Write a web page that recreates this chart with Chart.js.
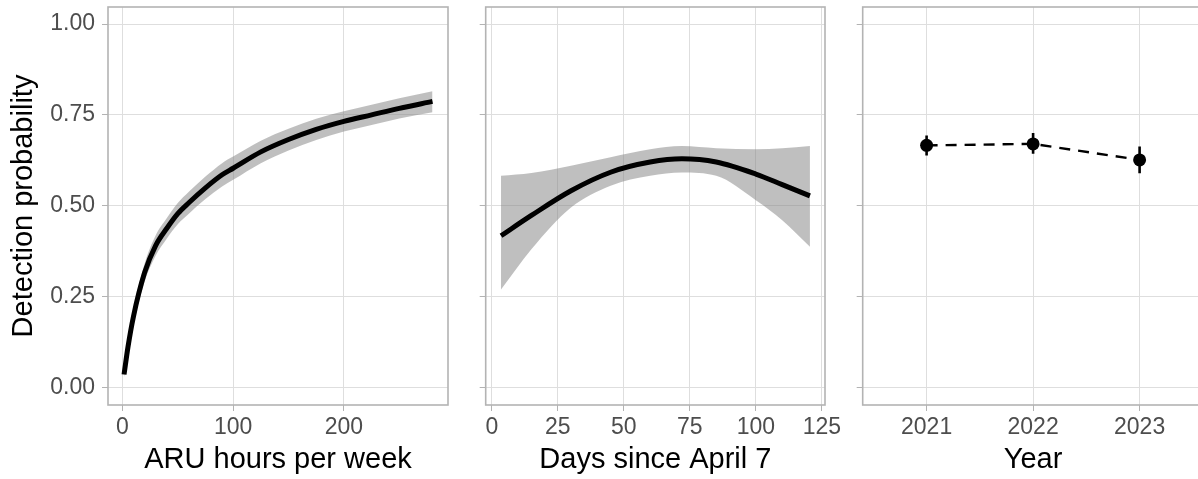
<!DOCTYPE html>
<html>
<head>
<meta charset="utf-8">
<script src="https://cdn.jsdelivr.net/npm/chart.js@4"></script>
<style>
body { margin: 0; background: #fff; overflow: hidden; }
#wrap { position: relative; width: 1198px; height: 479px; overflow: hidden; }
canvas { position: absolute; top: 0; }
</style>
</head>
<body>
<div id="wrap">
  <canvas id="hours" width="470" height="479" style="left:0px"></canvas>
  <canvas id="days" width="395" height="479" style="left:455px"></canvas>
  <canvas id="year" width="405" height="479" style="left:835px"></canvas>
</div>
<script>
// y axis shared by all three panels
const yTicks = [0, 0.25, 0.5, 0.75, 1];

// panel 1: ARU hours per week
const hoursX   = [1.5, 5, 10, 20, 30, 40, 50, 60, 75, 90, 100, 125, 150, 175, 200, 225, 250, 280];
const hoursFit = [0.035, 0.11, 0.195, 0.315, 0.39, 0.437, 0.478, 0.508, 0.549, 0.585, 0.603, 0.648, 0.682, 0.71, 0.732, 0.75, 0.768, 0.787];
const hoursLo  = [0.027, 0.095, 0.175, 0.29, 0.362, 0.409, 0.449, 0.478, 0.518, 0.553, 0.571, 0.617, 0.652, 0.681, 0.704, 0.722, 0.74, 0.757];
const hoursHi  = [0.043, 0.125, 0.215, 0.34, 0.418, 0.465, 0.507, 0.538, 0.58, 0.617, 0.635, 0.679, 0.712, 0.739, 0.76, 0.778, 0.796, 0.815];
const hoursTicks = [0, 100, 200];

// panel 2: days since April 7
const daysX   = [3.5, 15, 30, 45, 60, 72, 85, 100, 110, 120.5];
const daysFit = [0.417, 0.473, 0.541, 0.592, 0.62, 0.629, 0.62, 0.587, 0.558, 0.527];
const daysLo  = [0.269, 0.38, 0.495, 0.555, 0.582, 0.591, 0.582, 0.515, 0.46, 0.387];
const daysHi  = [0.582, 0.59, 0.61, 0.633, 0.655, 0.664, 0.658, 0.655, 0.658, 0.664];
const daysTicks = [0, 25, 50, 75, 100, 125];

// panel 3: year
const years   = [2021, 2022, 2023];
const yearEst = [0.666, 0.670, 0.626];
const yearLo  = [0.638, 0.643, 0.589];
const yearHi  = [0.693, 0.700, 0.663];

const FONT = "'Liberation Sans', Arial, sans-serif";
const GRID = '#dedede';
const EDGE = '#b3b3b3';

function pts(xs, ys) { return xs.map((x, i) => ({x: x, y: ys[i]})); }

// gray frame round the panel, like theme_light
const panelBorder = {
  id: 'panelBorder',
  afterDraw(chart) {
    const c = chart.ctx, a = chart.chartArea;
    c.save();
    c.strokeStyle = EDGE;
    c.lineWidth = 1.6;
    c.strokeRect(a.left, a.top, a.right - a.left, a.bottom - a.top);
    c.restore();
  }
};

// fit line first so it is drawn on top of the band
function bandSets(xs, lo, hi, fit) {
  return [
    {data: pts(xs, fit), borderColor: '#000', borderWidth: 5, pointRadius: 0, fill: false, cubicInterpolationMode: 'monotone', borderCapStyle: 'butt'},
    {data: pts(xs, lo), borderWidth: 0, pointRadius: 0, fill: false, cubicInterpolationMode: 'monotone'},
    {data: pts(xs, hi), borderWidth: 0, pointRadius: 0, fill: '-1', backgroundColor: 'rgba(128,128,128,0.5)', cubicInterpolationMode: 'monotone'}
  ];
}

function noPad(a) { a.paddingTop = 0; a.paddingBottom = 0; a.paddingLeft = 0; a.paddingRight = 0; }

function opts(o) {
  return {
    responsive: false,
    animation: false,
    devicePixelRatio: 1,
    layout: {padding: {top: 7, right: o.padRight, bottom: 0, left: 0}},
    plugins: {legend: {display: false}, tooltip: {enabled: false}},
    scales: {
      x: {
        type: 'linear', min: o.xMin, max: o.xMax,
        afterBuildTicks: a => { a.ticks = o.xTicks.map(v => ({value: v})); },
        afterFit: a => { a.height = 74; noPad(a); },
        grid: {color: GRID, lineWidth: 1, tickLength: 6, tickColor: EDGE},
        border: {display: false},
        ticks: {autoSkip: false, maxRotation: 0, padding: 3, color: '#4d4d4d', font: {family: FONT, size: 23},
                callback: v => String(v)},
        title: {display: true, text: o.xTitle, color: '#000', font: {family: FONT, size: 29}, padding: {top: 0, bottom: 2}}
      },
      y: {
        type: 'linear', min: -0.049, max: 1.047,
        afterBuildTicks: a => { a.ticks = yTicks.map(v => ({value: v})); },
        afterFit: a => { a.width = o.yWidth; noPad(a); },
        grid: {color: GRID, lineWidth: 1, tickLength: 6, tickColor: EDGE},
        border: {display: false},
        ticks: {autoSkip: false, padding: 7, color: '#4d4d4d', font: {family: FONT, size: 23},
                callback: v => o.yLabels ? v.toFixed(2) : ''},
        title: {display: o.yLabels, text: 'Detection probability', color: '#000', font: {family: FONT, size: 29}, padding: {top: 7, bottom: 0}}
      }
    }
  };
}

new Chart('hours', {
  type: 'line',
  data: {datasets: bandSets(hoursX, hoursLo, hoursHi, hoursFit)},
  options: opts({xMin: -13, xMax: 294, xTicks: hoursTicks, xTitle: 'ARU hours per week', yLabels: true, yWidth: 108, padRight: 22}),
  plugins: [panelBorder]
});

new Chart('days', {
  type: 'line',
  data: {datasets: bandSets(daysX, daysLo, daysHi, daysFit)},
  options: opts({xMin: -2.3, xMax: 126.2, xTicks: daysTicks, xTitle: 'Days since April 7', yLabels: false, yWidth: 30.7, padRight: 25}),
  plugins: [panelBorder]
});

// error bars, one small dataset for each year, then the dashed estimate line
const errSets = years.map((yr, i) => ({
  data: [{x: yr, y: yearLo[i]}, {x: yr, y: yearHi[i]}],
  borderColor: '#000', borderWidth: 2.6, pointRadius: 0, fill: false
}));

new Chart('year', {
  type: 'line',
  data: {datasets: [{
    data: pts(years, yearEst),
    borderColor: '#000', borderWidth: 2.4, borderDash: [11, 8], fill: false,
    pointRadius: 6.5, pointBackgroundColor: '#000', pointBorderWidth: 0
  }].concat(errSets)},
  options: opts({xMin: 2020.4, xMax: 2023.6, xTicks: years, xTitle: 'Year', yLabels: false, yWidth: 27.7, padRight: 36.5}),
  plugins: [panelBorder]
});
</script>
</body>
</html>
